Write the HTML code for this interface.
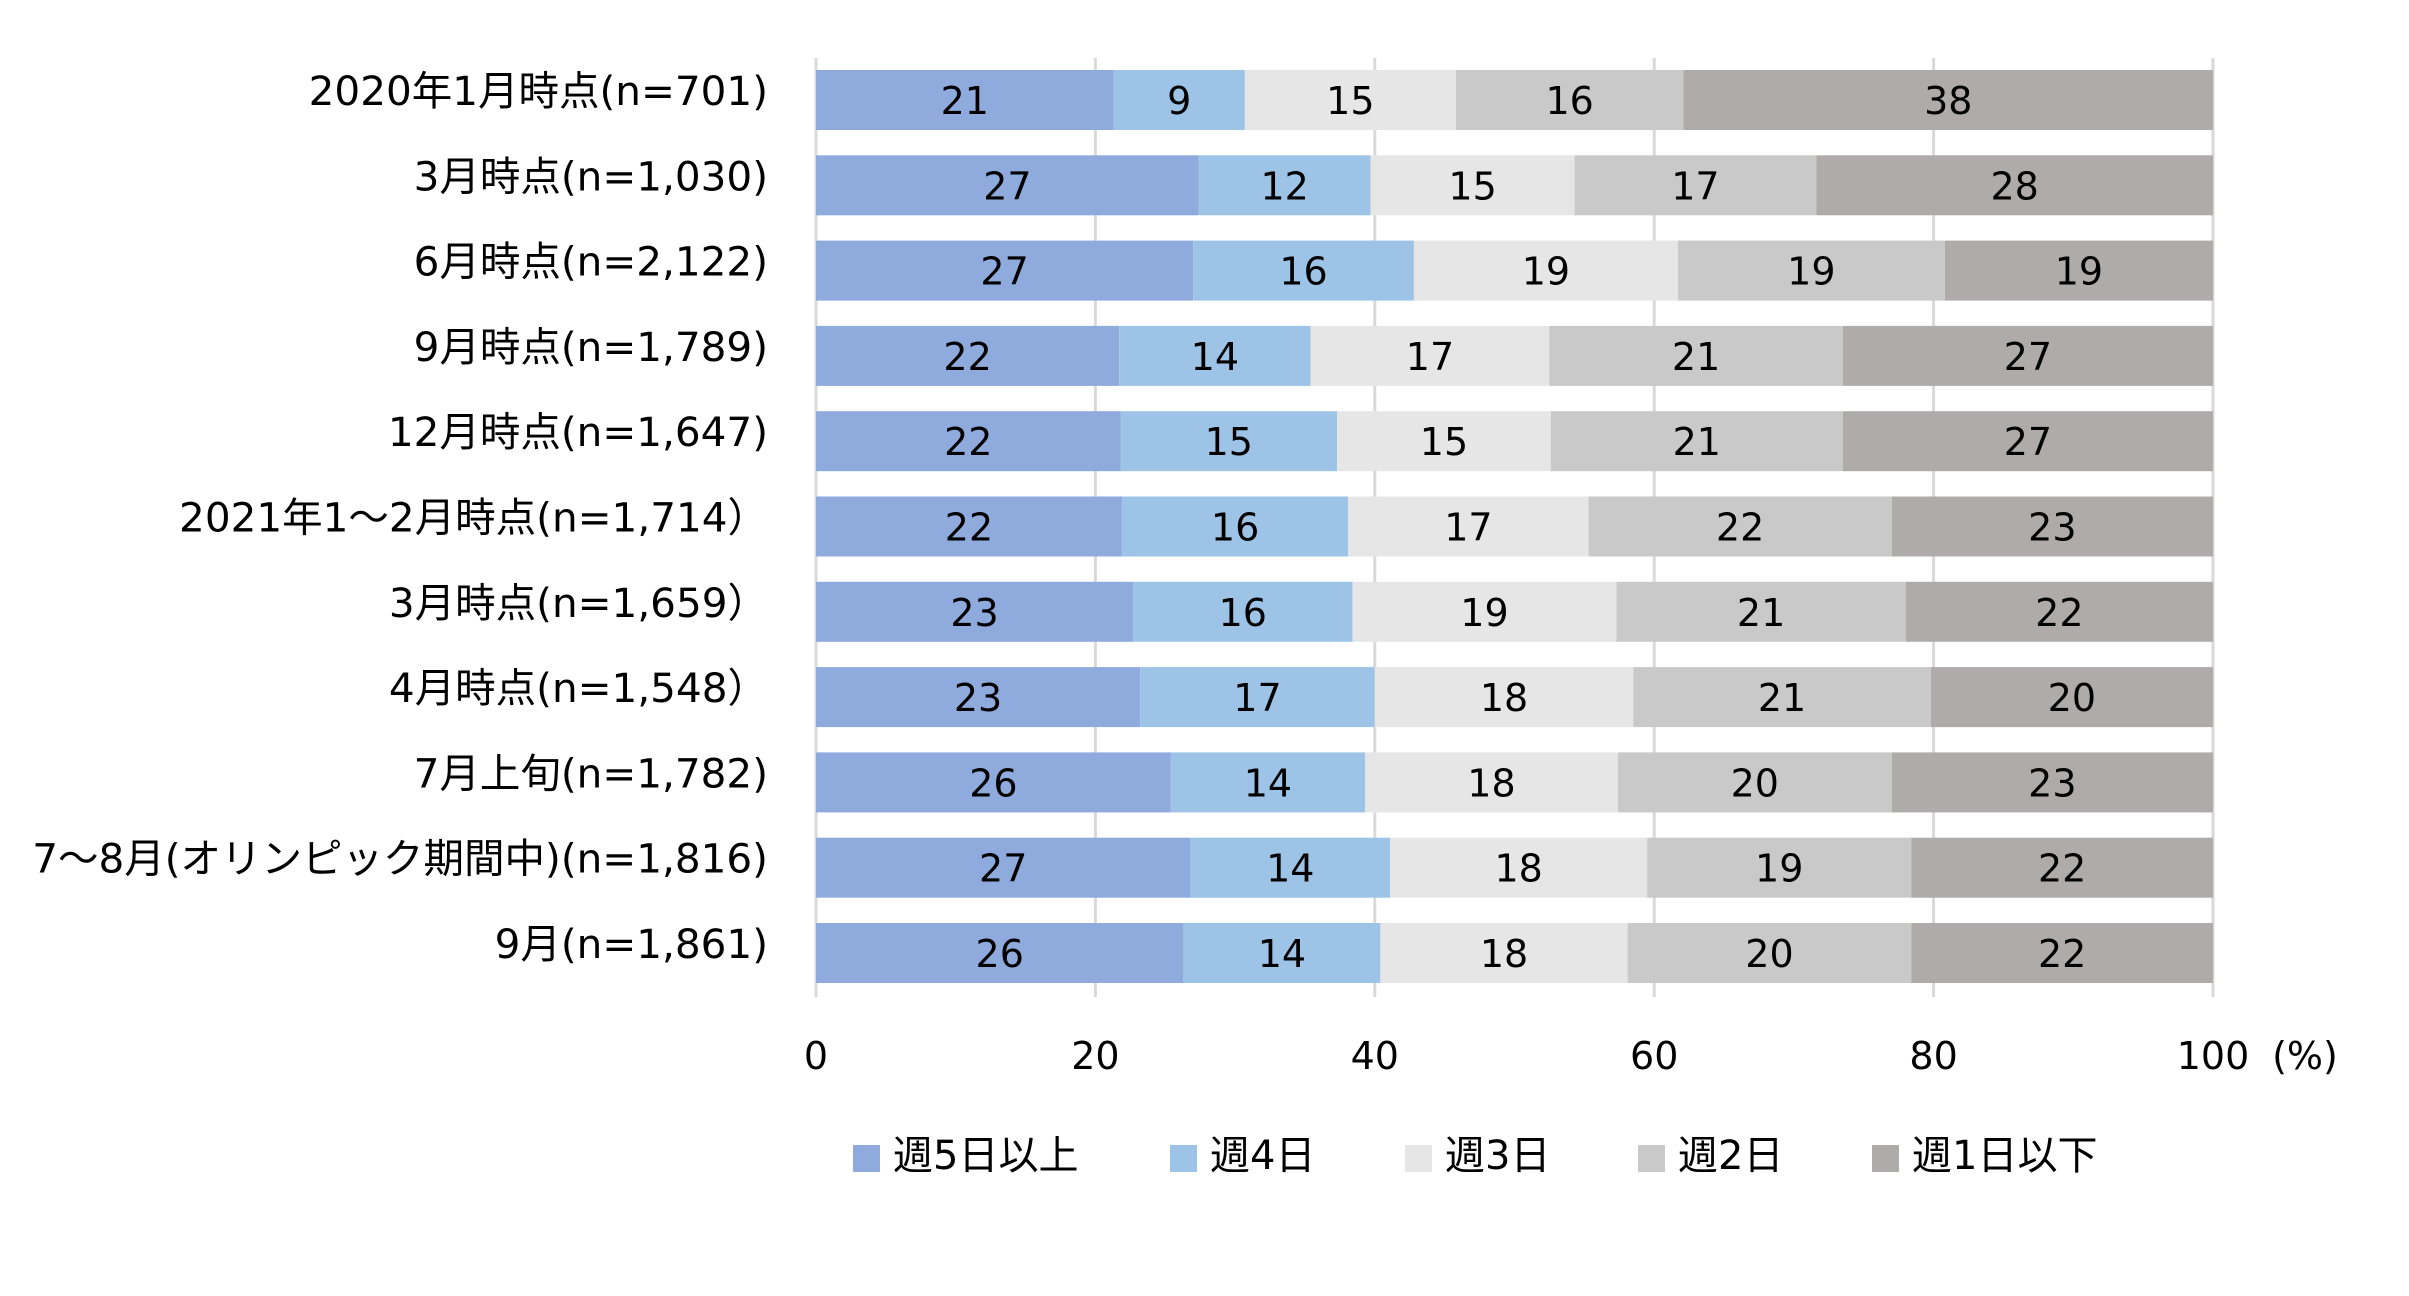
<!DOCTYPE html>
<html><head><meta charset="utf-8"><style>
body{margin:0;background:#fff}
svg text{font-family:"DejaVu Sans","Noto Sans CJK JP",sans-serif;fill:#000}
</style></head><body>
<svg width="2409" height="1291" viewBox="0 0 2409 1291" xmlns="http://www.w3.org/2000/svg">
<g id="grid" stroke="#d9d9d9" stroke-width="3"></g>
<g id="bars"></g>
<g id="labels" font-size="40.5" text-anchor="end"></g>
<g id="vals" font-size="38" text-anchor="middle"></g>
<g id="ticks" font-size="38" text-anchor="middle"></g>
<g id="legend" font-size="40"></g>
</svg>
<script>
const X0=816,W=1397,T0=70,P=85.3,BH=60;
const cats=["2020年1月時点(n=701)","3月時点(n=1,030)","6月時点(n=2,122)","9月時点(n=1,789)","12月時点(n=1,647)","2021年1～2月時点(n=1,714）","3月時点(n=1,659）","4月時点(n=1,548）","7月上旬(n=1,782)","7～8月(オリンピック期間中)(n=1,816)","9月(n=1,861)"];
const cum=[[21.3,30.7,45.8,62.1],[27.4,39.7,54.3,71.6],[27,42.8,61.7,80.8],[21.7,35.4,52.5,73.5],[21.8,37.3,52.6,73.5],[21.9,38.1,55.3,77],[22.7,38.4,57.3,78],[23.2,40,58.5,79.8],[25.4,39.3,57.4,77],[26.8,41.1,59.5,78.4],[26.3,40.4,58.1,78.4]];
const vals=[[21,9,15,16,38],[27,12,15,17,28],[27,16,19,19,19],[22,14,17,21,27],[22,15,15,21,27],[22,16,17,22,23],[23,16,19,21,22],[23,17,18,21,20],[26,14,18,20,23],[27,14,18,19,22],[26,14,18,20,22]];
const cols=["#8faadc","#9dc3e6","#e7e6e6","#c9c9c9","#afabab"];
const ns="http://www.w3.org/2000/svg";
function el(p,t,a,txt){const e=document.createElementNS(ns,t);for(const k in a)e.setAttribute(k,a[k]);if(txt!=null)e.textContent=txt;document.getElementById(p).appendChild(e);}
for(let i=0;i<=5;i++){const x=X0+W*i/5;el("grid","line",{x1:x,x2:x,y1:58,y2:997});el("ticks","text",{x:x,y:1069},String(i*20));}
el("ticks","text",{x:X0+W+92,y:1069},"(%)");
for(let r=0;r<11;r++){const y=T0+P*r;const b=[0,...cum[r],100];
 for(let s=0;s<5;s++){const x1=X0+W*b[s]/100,x2=X0+W*b[s+1]/100;
  el("bars","rect",{x:x1,y:y,width:x2-x1,height:BH,fill:cols[s]});
  el("vals","text",{x:(x1+x2)/2,y:y+BH/2+14},String(vals[r][s]));}
 el("labels","text",{x:768,y:y+BH/2+5},cats[r]);}
const leg=[[853,"週5日以上"],[1170,"週4日"],[1405,"週3日"],[1638,"週2日"],[1872,"週1日以下"]];
leg.forEach((l,i)=>{el("legend","rect",{x:l[0],y:1145,width:27,height:27,fill:cols[i]});el("legend","text",{x:l[0]+40,y:1169},l[1]);});
</script>
</body></html>
